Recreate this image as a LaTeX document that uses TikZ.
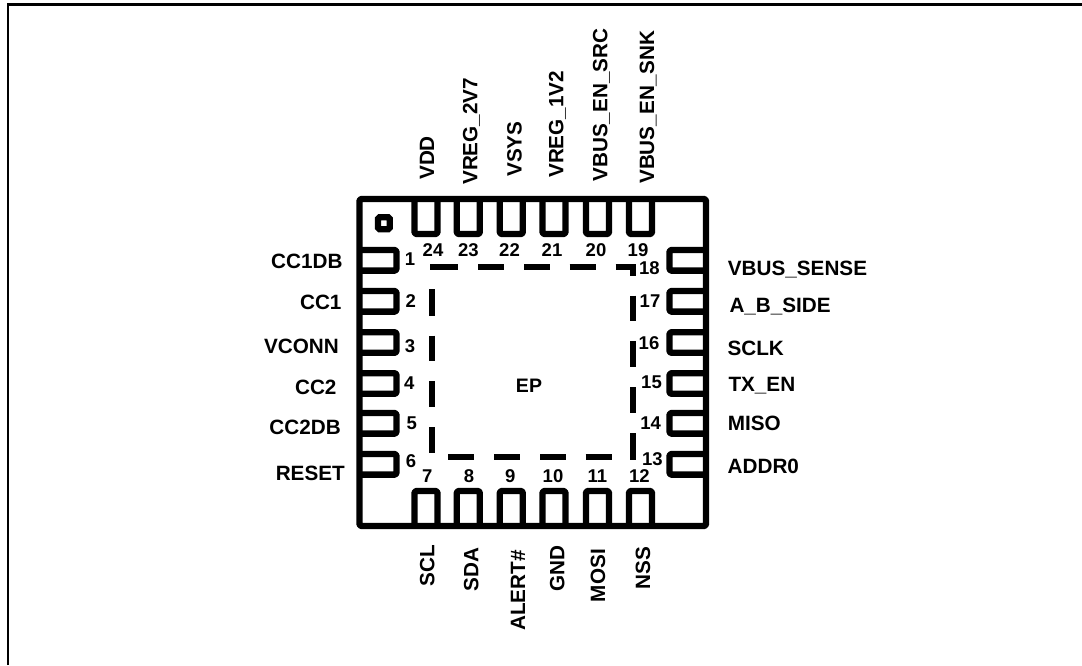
\documentclass[tikz,border=0pt]{standalone}
\usepackage{fontspec}
\setmainfont{Liberation Sans}
\tikzset{
  x=1pt,y=-1pt,
  chipline/.style={line width=6.3pt,black,line join=round,rounded corners=1.5pt},
  epdash/.style={line width=6.2pt,black,line cap=butt,line join=miter},
  frameline/.style={line width=2.2pt,black},
  pinlabel/.style={inner sep=0pt,font=\fontsize{20.7}{24}\selectfont\bfseries},
  vlabel/.style={pinlabel,rotate=90,anchor=base west},
  llabel/.style={pinlabel,anchor=base east},
  rlabel/.style={pinlabel,anchor=base west},
  pinnum/.style={inner sep=0pt,anchor=base,font=\fontsize{18.5}{21}\selectfont\bfseries},
}
\begin{document}
\begin{tikzpicture}
\useasboundingbox (0,0) rectangle (1082,665);
\fill[white] (0,0) rectangle (1082,665);
\draw[frameline] (8,665) -- (8,4.5) -- (1082,4.5);
% package outline
\draw[chipline] (359.5,199) rectangle (706,526);
% pin 1 mark
\draw[line width=6.2pt,black,rounded corners=1.5pt] (378,217.3) rectangle (389.7,229.3);
% top and bottom pins
\foreach \x in {426,468.3,511.3,554,597.5,640.5}{
  \draw[chipline] (\x-11.5,199) -- (\x-11.5,234) -- (\x+11.5,234) -- (\x+11.5,199);
  \draw[chipline] (\x-11.5,526) -- (\x-11.5,491) -- (\x+11.5,491) -- (\x+11.5,526);
}
% left and right pins
\foreach \y in {260.3,301.3,342.5,383.5,423.3,464.3}{
  \draw[chipline] (359.5,\y-10.3) -- (396.5,\y-10.3) -- (396.5,\y+10.3) -- (359.5,\y+10.3);
  \draw[chipline] (706,\y-10.3) -- (669.5,\y-10.3) -- (669.5,\y+10.3) -- (706,\y+10.3);
}
% exposed pad dashes
\foreach \a/\b in {430/458.3,478.3/504,524/550,569.5/596}{
  \draw[epdash] (\a,267.3) -- (\b,267.3);
}
\draw[epdash] (615.7,267.3) -- (633.3,267.3) -- (633.3,275.7);
\foreach \a/\b in {295.7/321,341/367,387/413,433/460}{
  \draw[epdash] (633.3,\a) -- (633.3,\b);
}
\foreach \a/\b in {289.3/315.7,335.7/361,381.3/406.7,427.3/453}{
  \draw[epdash] (432.3,\a) -- (432.3,\b);
}
\foreach \a/\b in {448.3/474.3,494/520.3,540/566,585.7/612.3}{
  \draw[epdash] (\a,456.7) -- (\b,456.7);
}
% top labels
\node[vlabel] (vdd) at (434,180) {VDD};
\node[vlabel] (vreg2) at (477.3,185) {VREG\_2V7};
\node[vlabel] (vsys) at (521.7,177) {VSYS};
\node[vlabel] (vreg1) at (563.3,178) {VREG\_1V2};
\node[vlabel] (src) at (607.3,181.7) {VBUS\_EN\_SRC};
\node[vlabel] (snk) at (654,184) {VBUS\_EN\_SNK};
% bottom labels
\node[vlabel] (scl) at (434.3,586.7) {SCL};
\node[vlabel] (sda) at (478.3,591.7) {SDA};
\node[vlabel] (alert) at (525,631) {ALERT\#};
\node[vlabel] (gnd) at (564.3,591.7) {GND};
\node[vlabel] (mosi) at (605,602.3) {MOSI};
\node[vlabel] (nss) at (650,589.3) {NSS};
% left labels
\node[llabel] (cc1db) at (342.7,268.3) {CC1DB};
\node[llabel] (cc1) at (341.7,309.3) {CC1};
\node[llabel] (vconn) at (339,353.3) {VCONN};
\node[llabel] (cc2) at (336.7,394) {CC2};
\node[llabel] (cc2db) at (341,434.3) {CC2DB};
\node[llabel] (reset) at (345,480) {RESET};
% right labels
\node[rlabel] (vbs) at (727.7,275) {VBUS\_SENSE};
\node[rlabel] (abs) at (729.3,312.7) {A\_B\_SIDE};
\node[rlabel] (sclk) at (727.3,355.7) {SCLK};
\node[rlabel] (txen) at (728.3,391.7) {TX\_EN};
\node[rlabel] (miso) at (727.7,430) {MISO};
\node[rlabel] (addr) at (727.5,473.3) {ADDR0};
% pin numbers
\node[pinnum] (n1) at (410,265) {1};
\node[pinnum] (n2) at (410.7,307.3) {2};
\node[pinnum] (n3) at (410,352.3) {3};
\node[pinnum] (n4) at (409.3,389) {4};
\node[pinnum] (n5) at (411.7,429.3) {5};
\node[pinnum] (n6) at (411,467.3) {6};
\node[pinnum] (n7) at (427.3,482) {7};
\node[pinnum] (n8) at (469,482) {8};
\node[pinnum] (n9) at (510.3,482) {9};
\node[pinnum] (n10) at (553,482) {10};
\node[pinnum] (n11) at (597.3,482) {11};
\node[pinnum] (n12) at (639.3,482) {12};
\node[pinnum] (n13) at (652.3,465) {13};
\node[pinnum] (n14) at (650.7,429.3) {14};
\node[pinnum] (n15) at (651.5,388) {15};
\node[pinnum] (n16) at (649,349.3) {16};
\node[pinnum] (n17) at (650,307.3) {17};
\node[pinnum] (n18) at (649.3,274) {18};
\node[pinnum] (n19) at (638,256.7) {19};
\node[pinnum] (n20) at (596,256.7) {20};
\node[pinnum] (n21) at (552,256.7) {21};
\node[pinnum] (n22) at (509.5,256.7) {22};
\node[pinnum] (n23) at (468.3,256.7) {23};
\node[pinnum] (n24) at (433,256.7) {24};
\node[pinnum,font=\fontsize{19.5}{22}\selectfont\bfseries] (ep) at (529,392) {EP};
\end{tikzpicture}
\end{document}
